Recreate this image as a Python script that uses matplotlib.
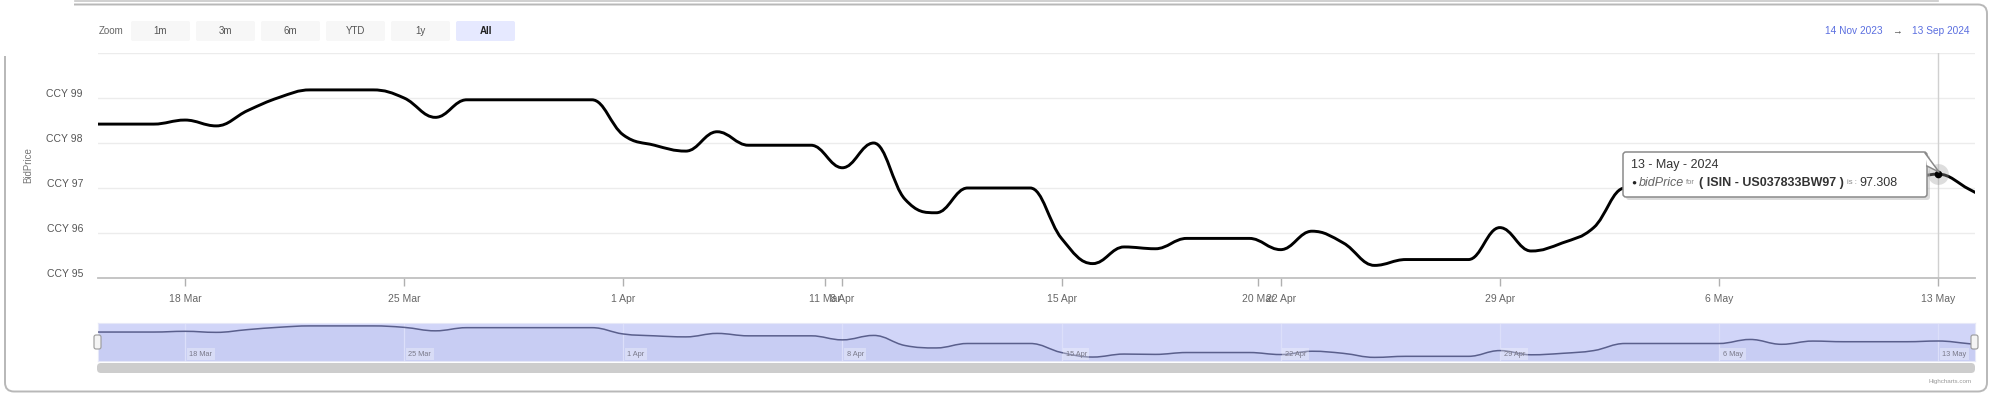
import numpy as np
import pandas as pd
import matplotlib
matplotlib.use('Agg')
import matplotlib.pyplot as plt
import matplotlib.dates as mdates
import matplotlib.transforms as mtransforms
from matplotlib.path import Path
from matplotlib.patches import PathPatch, FancyBboxPatch, Rectangle, Polygon

plt.rcParams['font.family'] = ['Liberation Sans', 'DejaVu Sans']

# дані (щоденні котирування, 15 Mar - 15 May 2024)
start_date = '2024-03-15'
bid_price = [98.42, 98.42, 98.42, 98.51, 98.38, 98.72, 99.01, 99.18, 99.18, 99.18,
             99.00, 98.57, 98.96, 98.96, 98.96, 98.96, 98.96, 98.18, 97.95, 97.82,
             98.25, 97.95, 97.95, 97.95, 97.45, 98.00, 96.75, 96.45, 97.00, 97.00,
             97.00, 95.88, 95.32, 95.69, 95.65, 95.88, 95.88, 95.88, 95.63, 96.04,
             95.78, 95.28, 95.41, 95.41, 95.41, 96.12, 95.60, 95.78, 96.12, 97.00,
             97.00, 97.00, 97.00, 97.50, 96.90, 97.30, 97.22, 97.22, 97.22, 97.308,
             96.97, 96.60]
dates = pd.date_range(start_date, periods=len(bid_price), freq='D')

y_ticks = [95, 96, 97, 98, 99]
y_tick_labels = ['CCY 95', 'CCY 96', 'CCY 97', 'CCY 98', 'CCY 99']
x_tick_dates = ['2024-03-18', '2024-03-25', '2024-04-01', '2024-04-07 11:00', '2024-04-08',
                '2024-04-15', '2024-04-21 06:30', '2024-04-22', '2024-04-29', '2024-05-06',
                '2024-05-13']
x_tick_labels = ['18 Mar', '25 Mar', '1 Apr', '11 Mar', '8 Apr', '15 Apr', '20 Mar',
                 '22 Apr', '29 Apr', '6 May', '13 May']
nav_tick_dates = ['2024-03-18', '2024-03-25', '2024-04-01', '2024-04-08', '2024-04-15',
                  '2024-04-22', '2024-04-29', '2024-05-06', '2024-05-13']
nav_tick_labels = ['18 Mar', '25 Mar', '1 Apr', '8 Apr', '15 Apr', '22 Apr', '29 Apr',
                   '6 May', '13 May']
zoom_buttons = ['1m', '3m', '6m', 'YTD', '1y', 'All']
range_from = '14 Nov 2023'
range_to = '13 Sep 2024'
tooltip_date = '2024-05-13'
tooltip_value = 97.308
isin = 'US037833BW97'

W, H = 2000, 404
x_min = pd.Timestamp('2024-03-15 05:20')
x_max = pd.Timestamp('2024-05-14 04:20')


def spline_path(x, y, smoothing=1.5):
    # згладжування як у Highcharts spline
    n = len(x)
    verts = [(x[0], y[0])]
    codes = [Path.MOVETO]
    prev_right = (x[0], y[0])
    for i in range(1, n):
        px, py = x[i], y[i]
        if i < n - 1:
            lx, ly = x[i - 1], y[i - 1]
            nx, ny = x[i + 1], y[i + 1]
            d = smoothing + 1
            lcx = (smoothing * px + lx) / d
            lcy = (smoothing * py + ly) / d
            rcx = (smoothing * px + nx) / d
            rcy = (smoothing * py + ny) / d
            if rcx != lcx:
                corr = (rcy - lcy) * (rcx - px) / (rcx - lcx) + py - rcy
                lcy += corr
                rcy += corr
            if lcy > ly and lcy > py:
                lcy = max(ly, py); rcy = 2 * py - lcy
            elif lcy < ly and lcy < py:
                lcy = min(ly, py); rcy = 2 * py - lcy
            if rcy > ny and rcy > py:
                rcy = max(ny, py); lcy = 2 * py - rcy
            elif rcy < ny and rcy < py:
                rcy = min(ny, py); lcy = 2 * py - rcy
            left, right = (lcx, lcy), (rcx, rcy)
        else:
            left, right = (px, py), (px, py)
        verts += [prev_right, left, (px, py)]
        codes += [Path.CURVE4] * 3
        prev_right = right
    return verts, codes


fig = plt.figure(figsize=(W / 100, H / 100), dpi=100)
tpx = mtransforms.Affine2D().scale(0.01, -0.01).translate(0, H / 100) + fig.dpi_scale_trans

# рамка контейнера
fig.patches.append(FancyBboxPatch((5, 4.5), 1982, 387, boxstyle='round,pad=0,rounding_size=9',
                                  transform=tpx, facecolor='none', edgecolor='#b8b8b8', lw=1.4))
fig.patches.append(Rectangle((0, 0), 74, 56, transform=tpx, facecolor='white', edgecolor='none'))
fig.lines.append(plt.Line2D([75, 1938], [0.8, 0.8], transform=tpx, color='#c8c8c8', lw=1.2))

xs = mdates.date2num(dates)
verts, codes = spline_path(list(xs), bid_price)

# основний графік
ax = fig.add_axes([98 / W, 1 - 278 / H, 1877 / W, 225 / H])
ax.set_facecolor('none')
ax.set_xlim(mdates.date2num(x_min), mdates.date2num(x_max))
ax.set_ylim(95, 100)
for v in y_ticks[1:] + [100]:
    ax.axhline(v, color='#ececec', lw=1, zorder=0)
ax.set_yticks([])
ax.set_xticks(mdates.date2num(pd.to_datetime(x_tick_dates, format='mixed')))
ax.set_xticklabels(x_tick_labels)
ax.tick_params(axis='x', direction='out', length=6, width=1, color='#b0b0b0',
               labelsize=7.5, labelcolor='#666666', pad=5.5)
for s in ['top', 'left', 'right']:
    ax.spines[s].set_visible(False)
ax.spines['bottom'].set_color('#c0c0c0')
ax.spines['bottom'].set_linewidth(1.3)

lab_tr = mtransforms.blended_transform_factory(tpx, ax.transData) + \
    mtransforms.ScaledTranslation(0, 0.04, fig.dpi_scale_trans)
for v, t in zip(y_ticks, y_tick_labels):
    ax.text(83, v, t, transform=lab_tr, ha='right', va='center', fontsize=7.5,
            color='#555555', clip_on=False)
fig.text(28, 165, 'BidPrice', transform=tpx, rotation=90, ha='center', va='center',
         fontsize=7, color='#777777')

tt_x = mdates.date2num(pd.Timestamp(tooltip_date))
ax.axvline(tt_x, color='#d0d0d0', lw=1, zorder=1)
ax.add_patch(PathPatch(Path(verts, codes), facecolor='none', edgecolor='black', lw=2.1,
                       zorder=3, capstyle='round', joinstyle='round'))
ax.plot([tt_x], [tooltip_value], 'o', ms=15, color='#a0a0a0', alpha=0.35, mew=0, zorder=4)
ax.plot([tt_x], [tooltip_value], 'o', ms=4.5, color='black', zorder=5)

# підказка
fig.patches.append(FancyBboxPatch((1626, 155), 304, 45, boxstyle='round,pad=0,rounding_size=3',
                                  transform=tpx, facecolor='#bbbbbb', edgecolor='none', alpha=0.5))
fig.patches.append(FancyBboxPatch((1623, 152), 304, 45, boxstyle='round,pad=0,rounding_size=3',
                                  transform=tpx, facecolor='white', edgecolor='#8a8a8a', lw=1.1))
fig.patches.append(Polygon([(1925, 153), (1939, 172), (1927, 166)], closed=True, transform=tpx,
                           facecolor='white', edgecolor='none'))
fig.lines.append(plt.Line2D([1925, 1939, 1927], [153, 172, 166], transform=tpx,
                            color='#8a8a8a', lw=1.1))
fig.text(1631, 165, '13 - May - 2024', transform=tpx, ha='left', va='center',
         fontsize=9, color='#333333')
renderer = fig.canvas.get_renderer()
pieces = [('\u25cf', 6, 'normal', 'normal', '#222222', 3),
          ('bidPrice', 9, 'normal', 'italic', '#666666', 2),
          ('for', 5.5, 'normal', 'normal', '#888888', 4),
          ('( ISIN - ' + isin + ' )', 9, 'bold', 'normal', '#333333', 3),
          ('is :', 5.5, 'normal', 'normal', '#888888', 3),
          ('%.3f' % tooltip_value, 9, 'normal', 'normal', '#333333', 0)]
cx = 1631
for txt, fs, fw, st, col, gap in pieces:
    t = fig.text(cx, 183, txt, transform=tpx, ha='left', va='center', fontsize=fs,
                 fontweight=fw, fontstyle=st, color=col)
    bb = t.get_window_extent(renderer)
    cx += bb.width + gap

# кнопки вибору діапазону
fig.text(111, 31, 'Zoom', transform=tpx, ha='center', va='center', fontsize=7, color='#666666')
for i, b in enumerate(zoom_buttons):
    x0 = 131 + i * 65
    sel = b == 'All'
    fig.patches.append(FancyBboxPatch((x0, 21), 59, 20, boxstyle='round,pad=0,rounding_size=2',
                                      transform=tpx, facecolor='#e6e9ff' if sel else '#f7f7f7',
                                      edgecolor='none'))
    fig.text(x0 + 29.5, 31, b, transform=tpx, ha='center', va='center', fontsize=7,
             color='#222222' if sel else '#555555', fontweight='bold' if sel else 'normal')
fig.text(1883, 31, range_from, transform=tpx, ha='right', va='center', fontsize=7.3,
         color='#5b6fe0')
fig.text(1897, 31, '\u2192', transform=tpx, ha='center', va='center', fontsize=7,
         color='#444444')
fig.text(1970, 31, range_to, transform=tpx, ha='right', va='center', fontsize=7.3,
         color='#5b6fe0')

# навігатор
nav = fig.add_axes([98 / W, 1 - 361 / H, 1877 / W, 38 / H])
nav.set_facecolor('#d1d5f8')
nav.set_xlim(mdates.date2num(x_min), mdates.date2num(x_max))
nav.set_ylim(94.83, 99.54)
nav.set_xticks([])
nav.set_yticks([])
for s in nav.spines.values():
    s.set_color('#e6e8f8')
    s.set_linewidth(0.8)
nav_verts = verts + [(xs[-1], 94.0), (xs[0], 94.0), (xs[0], bid_price[0])]
nav_codes = codes + [Path.LINETO, Path.LINETO, Path.CLOSEPOLY]
nav.add_patch(PathPatch(Path(nav_verts, nav_codes), facecolor='#c8cdf3', edgecolor='none', zorder=1))
nav.add_patch(PathPatch(Path(verts, codes), facecolor='none', edgecolor='#5a5f8c', lw=1.1, zorder=3))
for d, l in zip(pd.to_datetime(nav_tick_dates), nav_tick_labels):
    dn = mdates.date2num(d)
    nav.axvline(dn, color='#dcdffa', lw=0.9, zorder=2)
    nav.annotate(l, (dn, 0), xycoords=('data', 'axes fraction'), xytext=(3, 2.5),
                 textcoords='offset points', fontsize=5.3, color='#7a7a8a', ha='left',
                 va='bottom', zorder=4,
                 bbox=dict(boxstyle='square,pad=0.35', facecolor='white', alpha=0.3,
                           edgecolor='none'))

# ручки навігатора та смуга прокрутки
for hx in [94, 1971]:
    fig.patches.append(FancyBboxPatch((hx, 335), 7, 14, boxstyle='round,pad=0,rounding_size=2',
                                      transform=tpx, facecolor='#f4f4f4', edgecolor='#9a9a9a',
                                      lw=0.8, zorder=5))
fig.patches.append(FancyBboxPatch((97, 363), 1878, 10, boxstyle='round,pad=0,rounding_size=4',
                                  transform=tpx, facecolor='#cdcdcd', edgecolor='none'))
fig.text(1972, 381, 'Highcharts.com', transform=tpx, ha='right', va='center', fontsize=4.5,
         color='#999999')

fig.savefig('out.png', dpi=100)
